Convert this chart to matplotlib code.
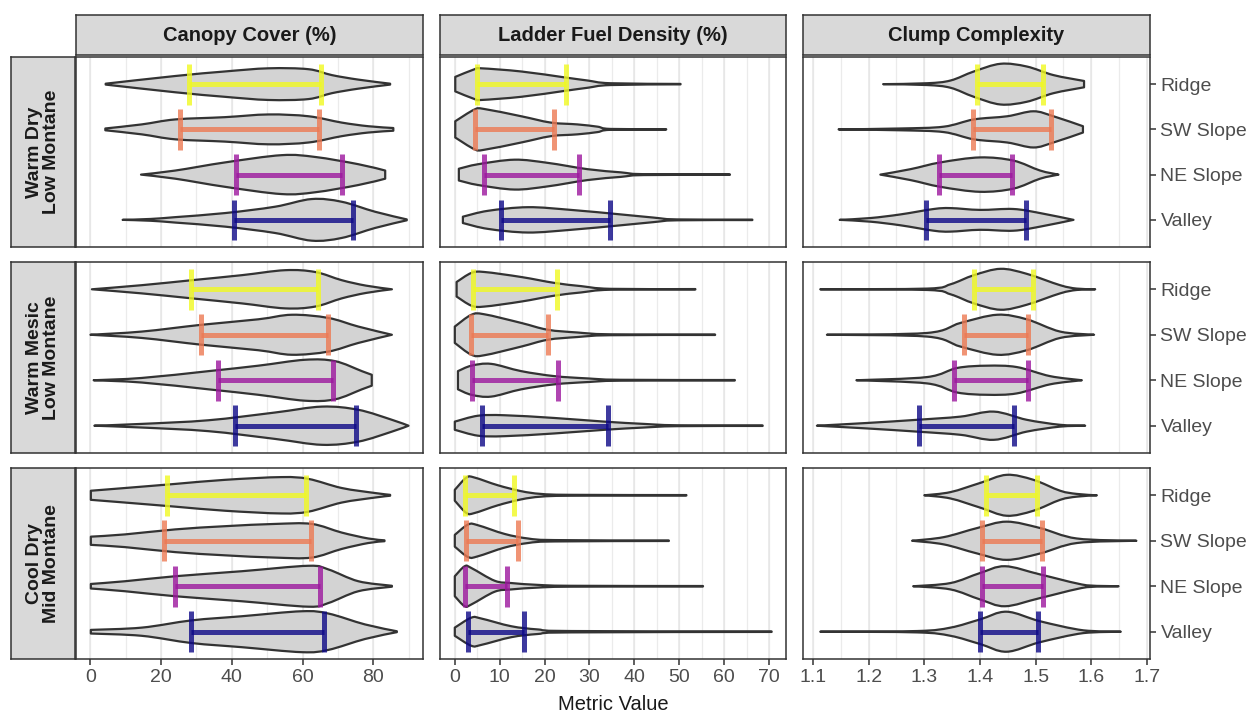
import matplotlib.pyplot as plt
from matplotlib.path import Path
from matplotlib.patches import PathPatch
import numpy as np

metrics = ["Canopy Cover (%)", "Ladder Fuel Density (%)", "Clump Complexity"]
zones = ["Warm Dry\nLow Montane", "Warm Mesic\nLow Montane", "Cool Dry\nMid Montane"]
sites = ["Ridge", "SW Slope", "NE Slope", "Valley"]
site_colors = ["#F0F921", "#ED7953", "#9C179E", "#0D0887"]

# violin outlines: (x values, half widths) per zone, per site
canopy_violins = [
    [([4.3, 24, 38, 50.4, 61.7, 68.3, 75.8, 84.8], [0.01, 0.18, 0.28, 0.35, 0.33, 0.2, 0.1, 0.01]),
     ([4.2, 14.5, 24, 38, 50.4, 61.7, 71.1, 78.6, 85.7], [0.02, 0.11, 0.22, 0.27, 0.33, 0.29, 0.15, 0.07, 0.03]),
     ([14.3, 24, 38.1, 54.1, 63.6, 75.8, 83.4], [0, 0.09, 0.27, 0.43, 0.39, 0.23, 0.09]),
     ([9.1, 17, 24, 38.1, 52.2, 62.6, 71.1, 80.5, 89.5], [0, 0.02, 0.06, 0.15, 0.29, 0.46, 0.4, 0.18, 0.01])],
    [([0.4, 14.5, 28.7, 42.8, 55.1, 63.6, 71.1, 78, 85.3], [0, 0.09, 0.2, 0.31, 0.42, 0.38, 0.2, 0.08, 0]),
     ([0, 14.5, 31.5, 47.5, 57, 67.3, 75.8, 85.3], [0, 0.07, 0.22, 0.34, 0.44, 0.37, 0.18, 0]),
     ([0.9, 14.5, 33.4, 47.5, 60.7, 69.2, 76.8, 79.6], [0, 0.05, 0.2, 0.32, 0.45, 0.42, 0.2, 0.12]),
     ([1.1, 14.5, 33.4, 52.2, 65.5, 75.8, 85.3, 90], [0, 0.04, 0.12, 0.29, 0.42, 0.35, 0.13, 0])],
    [([0.1, 9.8, 24, 38.1, 54.1, 61.7, 71.1, 80.5, 84.8], [0.1, 0.16, 0.25, 0.34, 0.4, 0.36, 0.16, 0.05, 0.01]),
     ([0.1, 9.8, 24, 38, 52.2, 62.6, 71.1, 78.6, 83.2], [0.09, 0.14, 0.25, 0.32, 0.37, 0.37, 0.18, 0.05, 0.01]),
     ([0.1, 9.8, 24, 42.8, 61.7, 67.3, 75.8, 85.3], [0.05, 0.11, 0.22, 0.33, 0.45, 0.37, 0.11, 0.01]),
     ([0.1, 14.5, 28.7, 42.8, 59.8, 67.3, 77.7, 86.7], [0.04, 0.09, 0.25, 0.34, 0.45, 0.4, 0.16, 0.01])],
]
ladder_violins = [
    [([0.1, 4.4, 5.9, 14.8, 24.4, 29.6, 34.7, 50.3], [0.16, 0.33, 0.35, 0.28, 0.15, 0.08, 0.02, 0.005]),
     ([0.1, 4.4, 6.6, 14.8, 21.4, 27.3, 31.8, 34.7, 47.1], [0.18, 0.44, 0.45, 0.29, 0.15, 0.11, 0.06, 0.01, 0.005]),
     ([0.9, 5.2, 13.3, 20.7, 29.6, 37, 42.1, 61.3], [0.13, 0.23, 0.33, 0.26, 0.12, 0.05, 0.01, 0.005]),
     ([1.8, 7.4, 16.3, 25.9, 37, 44.3, 49.5, 66.3], [0.07, 0.2, 0.28, 0.22, 0.12, 0.05, 0.01, 0.005])],
    [([0.4, 3.7, 6.6, 14.8, 22.2, 28.1, 34.7, 53.6], [0.16, 0.36, 0.38, 0.27, 0.14, 0.07, 0.01, 0.005]),
     ([0, 3.7, 6.6, 14.8, 20.7, 27.3, 34.7, 58], [0.18, 0.44, 0.45, 0.26, 0.11, 0.05, 0.01, 0.005]),
     ([0.7, 3.7, 8.1, 14.8, 22.2, 29.6, 37, 62.4], [0.2, 0.32, 0.36, 0.2, 0.09, 0.04, 0.01, 0.005]),
     ([0, 5.2, 11.1, 22.2, 33.3, 42.1, 49.5, 68.6], [0.09, 0.22, 0.23, 0.17, 0.09, 0.04, 0.01, 0.005])],
    [([0, 2.6, 4.4, 9.6, 14.8, 19.2, 25.9, 51.6], [0.12, 0.39, 0.39, 0.22, 0.09, 0.03, 0.01, 0.005]),
     ([0, 3, 5.2, 11.1, 16.3, 22.2, 47.7], [0.13, 0.36, 0.34, 0.15, 0.05, 0.015, 0.005]),
     ([0, 2.2, 3.7, 8.9, 12.6, 18.5, 25.9, 55.3], [0.22, 0.44, 0.4, 0.12, 0.07, 0.03, 0.01, 0.005]),
     ([0, 3.7, 5.9, 12.6, 18.5, 25.9, 70.6], [0.09, 0.31, 0.29, 0.12, 0.05, 0.015, 0.005])],
]
clump_violins = [
    [([1.226, 1.305, 1.347, 1.389, 1.437, 1.484, 1.532, 1.587], [0, 0.02, 0.08, 0.28, 0.45, 0.39, 0.2, 0.07]),
     ([1.146, 1.257, 1.335, 1.389, 1.449, 1.496, 1.532, 1.585], [0, 0.02, 0.06, 0.22, 0.29, 0.4, 0.29, 0.07]),
     ([1.221, 1.275, 1.329, 1.4, 1.46, 1.508, 1.541], [0, 0.12, 0.27, 0.38, 0.31, 0.09, 0]),
     ([1.148, 1.203, 1.257, 1.317, 1.347, 1.4, 1.46, 1.508, 1.568], [0, 0.04, 0.12, 0.24, 0.26, 0.22, 0.24, 0.15, 0])],
    [([1.113, 1.305, 1.347, 1.389, 1.437, 1.484, 1.544, 1.574, 1.607], [0, 0.015, 0.11, 0.31, 0.45, 0.34, 0.09, 0.015, 0]),
     ([1.125, 1.305, 1.365, 1.431, 1.484, 1.544, 1.605], [0, 0.04, 0.26, 0.44, 0.34, 0.07, 0]),
     ([1.178, 1.305, 1.359, 1.413, 1.466, 1.526, 1.583], [0, 0.07, 0.27, 0.32, 0.29, 0.09, 0]),
     ([1.107, 1.197, 1.287, 1.365, 1.425, 1.484, 1.544, 1.589], [0, 0.06, 0.13, 0.2, 0.31, 0.13, 0.02, 0])],
    [([1.3, 1.347, 1.4, 1.448, 1.496, 1.544, 1.574, 1.61], [0, 0.07, 0.27, 0.45, 0.34, 0.1, 0.03, 0]),
     ([1.278, 1.335, 1.395, 1.448, 1.508, 1.574, 1.681], [0, 0.08, 0.28, 0.42, 0.28, 0.05, 0]),
     ([1.28, 1.347, 1.4, 1.445, 1.508, 1.592, 1.649], [0, 0.07, 0.29, 0.44, 0.26, 0.02, 0]),
     ([1.113, 1.287, 1.347, 1.4, 1.448, 1.508, 1.586, 1.653], [0, 0.015, 0.09, 0.27, 0.44, 0.23, 0.03, 0])],
]

# interval bars (low, high) per zone, per site
canopy_bars = [[(28, 65.2), (25.2, 64.8), (41.2, 71.1), (40.5, 74.4)],
               [(28.5, 64.3), (31.3, 67.3), (36, 68.5), (41, 75.1)],
               [(21.6, 61), (20.8, 62.4), (23.8, 65), (28.4, 66)]]
ladder_bars = [[(4.9, 24.7), (4.4, 22.2), (6.6, 27.7), (10.2, 34.6)],
               [(4.1, 22.8), (3.7, 20.8), (3.9, 23.1), (6.1, 34.2)],
               [(2.2, 13.1), (2.6, 14), (2.2, 11.6), (3, 15.5)]]
clump_bars = [[(1.395, 1.513), (1.387, 1.528), (1.327, 1.457), (1.303, 1.483)],
              [(1.389, 1.496), (1.371, 1.486), (1.354, 1.486), (1.291, 1.462)],
              [(1.41, 1.502), (1.404, 1.511), (1.404, 1.513), (1.4, 1.505)]]

violins = [canopy_violins, ladder_violins, clump_violins]
bars = [canopy_bars, ladder_bars, clump_bars]
xlims = [(-4.1, 94.1), (-3.3, 73.8), (1.082, 1.7055)]
major = [np.arange(0, 81, 20), np.arange(0, 71, 10), np.arange(1.1, 1.71, 0.1)]
minor = [np.arange(-10, 100, 10), np.arange(-5, 80, 5), np.arange(1.05, 1.75, 0.05)]

W, H = 1257, 714
plt.rcParams['font.family'] = ['Liberation Sans', 'DejaVu Sans']
fig = plt.figure(figsize=(W / 100, H / 100), dpi=100)


def box(x0, y0, x1, y1):
    return [x0 / W, 1 - y1 / H, (x1 - x0) / W, (y1 - y0) / H]


def side_curve(xs, ws):
    # bezier control points through the read outline points (catmull-rom style)
    n = len(xs)
    verts = []
    for i in range(n - 1):
        p0 = i - 1 if i > 0 else i
        p3 = i + 2 if i + 2 < n else i + 1
        c1x = xs[i] + (xs[i + 1] - xs[p0]) / 6
        c1w = max(ws[i] + (ws[i + 1] - ws[p0]) / 6, 0)
        c2x = xs[i + 1] - (xs[p3] - xs[i]) / 6
        c2w = max(ws[i + 1] - (ws[p3] - ws[i]) / 6, 0)
        verts += [(c1x, c1w), (c2x, c2w), (xs[i + 1], ws[i + 1])]
    return verts


def violin_path(xs, ws, y):
    top = side_curve(xs, ws)
    bot = side_curve(xs[::-1], ws[::-1])
    verts = [(xs[0], y - ws[0])]
    codes = [Path.MOVETO]
    verts += [(vx, y - vw) for vx, vw in top]
    codes += [Path.CURVE4] * len(top)
    verts.append((xs[-1], y + ws[-1]))
    codes.append(Path.LINETO)
    verts += [(vx, y + vw) for vx, vw in bot]
    codes += [Path.CURVE4] * len(bot)
    verts.append((xs[0], y - ws[0]))
    codes.append(Path.CLOSEPOLY)
    return Path(verts, codes)


col_x = [(76, 423), (440, 786), (803, 1150)]
row_y = [(57, 247), (262, 453), (468, 659)]
edge = "#333333"

for c, (cx0, cx1) in enumerate(col_x):
    s = fig.add_axes(box(cx0, 15, cx1, 55))
    s.set_facecolor("#D9D9D9")
    s.set_xticks([]); s.set_yticks([])
    for sp in s.spines.values():
        sp.set_color(edge); sp.set_linewidth(1.1)
    s.text(0.5, 0.48, metrics[c], ha="center", va="center", fontsize=14.5,
           fontweight="bold", color="#1A1A1A", transform=s.transAxes)

for r, (ry0, ry1) in enumerate(row_y):
    s = fig.add_axes(box(11, ry0, 75, ry1))
    s.set_facecolor("#D9D9D9")
    s.set_xticks([]); s.set_yticks([])
    for sp in s.spines.values():
        sp.set_color(edge); sp.set_linewidth(1.1)
    s.text(0.5, 0.5, zones[r], ha="center", va="center", fontsize=14,
           fontweight="bold", color="#1A1A1A", rotation=90, linespacing=1.05,
           transform=s.transAxes)

    for c, (cx0, cx1) in enumerate(col_x):
        ax = fig.add_axes(box(cx0, ry0, cx1, ry1))
        ax.set_xlim(*xlims[c])
        ax.set_ylim(4.6, 0.4)
        for g in minor[c]:
            ax.axvline(g, color="#EBEBEB", lw=0.9, zorder=0)
        for g in major[c]:
            ax.axvline(g, color="#E6E6E6", lw=1.1, zorder=0)
        for i, site in enumerate(sites):
            xs, ws = violins[c][r][i]
            y = i + 1
            patch = PathPatch(violin_path(list(xs), list(ws), y), facecolor="#D3D3D3",
                              edgecolor=edge, linewidth=1.6, joinstyle="round", zorder=2)
            ax.add_patch(patch)
            lo, hi = bars[c][r][i]
            ax.plot([lo, hi], [y, y], color=site_colors[i], lw=3.6, alpha=0.8,
                    solid_capstyle="butt", zorder=3)
            ax.plot([lo, lo], [y - 0.45, y + 0.45], color=site_colors[i], lw=3.6,
                    alpha=0.8, solid_capstyle="butt", zorder=3)
            ax.plot([hi, hi], [y - 0.45, y + 0.45], color=site_colors[i], lw=3.6,
                    alpha=0.8, solid_capstyle="butt", zorder=3)
        for sp in ax.spines.values():
            sp.set_color(edge); sp.set_linewidth(1.1)
        ax.set_xticks(major[c])
        ax.tick_params(axis="x", length=4.5, width=1.1, color=edge,
                       labelsize=14, labelcolor="#4D4D4D", pad=3)
        if r < 2:
            ax.tick_params(axis="x", length=0, labelbottom=False)
        else:
            if c == 2:
                ax.set_xticklabels([f"{v:.1f}" for v in major[c]])
            else:
                ax.set_xticklabels([f"{v:g}" for v in major[c]])
        if c == 2:
            ax.yaxis.tick_right()
            ax.set_yticks(range(1, 5))
            ax.set_yticklabels(sites)
            ax.tick_params(axis="y", length=4.5, width=1.1, color=edge,
                           labelsize=14, labelcolor="#4D4D4D", pad=3)
        else:
            ax.set_yticks([])

fig.text(613 / W, 1 - 704 / H, "Metric Value", ha="center", va="center",
         fontsize=14.5, color="#1A1A1A")

fig.savefig("out.png", dpi=100)
